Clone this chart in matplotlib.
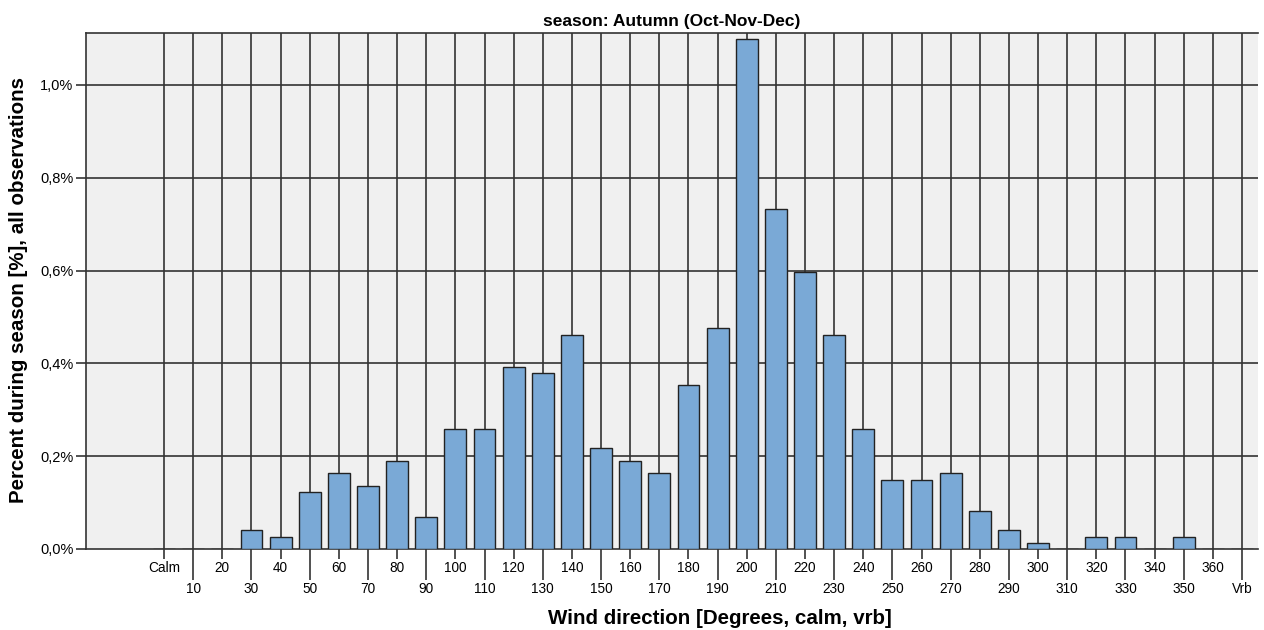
import matplotlib
matplotlib.use("Agg")
import matplotlib.pyplot as plt
from matplotlib.ticker import FixedLocator, FuncFormatter

plt.rcParams['font.family'] = ['Liberation Sans', 'DejaVu Sans']

categories = ["Calm"] + [str(d) for d in range(10, 370, 10)] + ["Vrb"]
values = [0, 0, 0, 0.041, 0.026, 0.123, 0.164, 0.136, 0.190, 0.069,
          0.259, 0.259, 0.392, 0.379, 0.461, 0.218, 0.190, 0.164, 0.353, 0.476,
          1.099, 0.733, 0.597, 0.461, 0.259, 0.149, 0.149, 0.164, 0.082, 0.041,
          0.013, 0, 0.026, 0.026, 0, 0.026, 0, 0]
yticks = [0.0, 0.2, 0.4, 0.6, 0.8, 1.0]

fig = plt.figure(figsize=(12.64, 6.30), dpi=100)
ax = fig.add_axes([86/1264, 1-549/630, (1258-86)/1264, (549-33)/630])
ax.set_facecolor('#f0f0f0')

x = list(range(len(categories)))
ax.bar(x, values, width=0.75, color='#7aa9d6', edgecolor='#222222', linewidth=1.0, zorder=3)

ax.set_xlim(-2.68, len(categories) - 1 + 0.55)
ax.set_ylim(0, 1.112)

# gridlines
for xi in x:
    ax.axvline(xi, color='#333333', linewidth=1.2, zorder=1)
for yv in yticks[1:]:
    ax.axhline(yv, color='#333333', linewidth=1.2, zorder=1)

ax.set_yticks(yticks)
ax.yaxis.set_major_formatter(FuncFormatter(lambda v, p: f"{v:.1f}%".replace('.', ',')))
ax.tick_params(axis='y', length=7, width=1.2, color='#333333', labelsize=10.5, pad=2)

even = [i for i in x if i % 2 == 0]
odd = [i for i in x if i % 2 == 1]
ax.xaxis.set_major_locator(FixedLocator(even))
ax.xaxis.set_major_formatter(FuncFormatter(lambda v, p: categories[int(round(v))]))
ax.xaxis.set_minor_locator(FixedLocator(odd))
ax.xaxis.set_minor_formatter(FuncFormatter(lambda v, p: categories[int(round(v))]))
ax.tick_params(axis='x', which='major', length=7, width=1.2, color='#333333', labelsize=9.8, pad=2)
ax.tick_params(axis='x', which='minor', length=22, width=1.2, color='#333333', labelsize=9.8, pad=2)

for s in ['left', 'bottom', 'top']:
    ax.spines[s].set_color('#333333')
    ax.spines[s].set_linewidth(1.2)
ax.spines['right'].set_visible(False)

ax.set_title("season: Autumn (Oct-Nov-Dec)", fontsize=12.5, fontweight='bold', pad=5)
fig.text(720/1264, 1-618/630, "Wind direction [Degrees, calm, vrb]", ha='center', va='center',
         fontsize=14.8, fontweight='bold')
fig.text(19/1264, 1-290/630, "Percent during season [%], all observations", ha='center', va='center',
         rotation=90, fontsize=14.8, fontweight='bold')

fig.savefig("out.png", dpi=100, facecolor='white')
